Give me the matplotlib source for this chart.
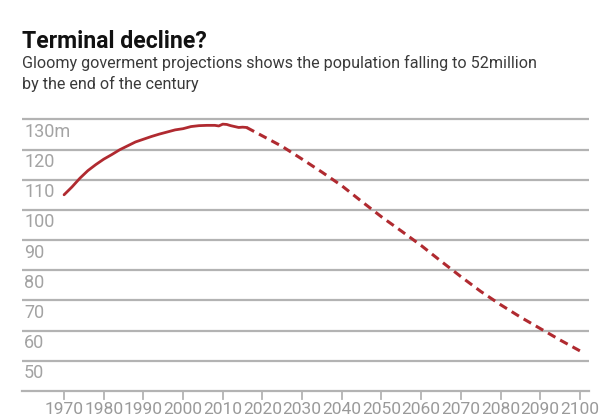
import matplotlib
matplotlib.use("Agg")
import matplotlib.pyplot as plt

years_hist = [1970, 1972, 1974, 1976, 1978, 1980, 1982, 1984, 1986, 1988, 1990,
              1992, 1994, 1996, 1998, 2000, 2002, 2004, 2006, 2008, 2009, 2010,
              2011, 2012, 2013, 2014, 2015, 2016]
pop_hist = [105.0, 107.6, 110.5, 113.0, 115.0, 116.8, 118.3, 119.9, 121.2, 122.5, 123.4,
            124.3, 125.1, 125.8, 126.5, 126.9, 127.6, 127.9, 128.0, 128.0, 127.8, 128.4,
            128.3, 127.9, 127.6, 127.3, 127.4, 127.3]
years_proj = [2016, 2020, 2025, 2030, 2035, 2040, 2045, 2050, 2055, 2060, 2065,
              2070, 2075, 2080, 2085, 2090, 2095, 2100]
pop_proj = [127.3, 124.5, 121.0, 116.8, 112.5, 108.0, 102.8, 97.7, 93.0, 88.2, 83.0,
            77.9, 73.0, 68.6, 64.5, 60.7, 56.9, 53.3]
y_ticks = [50, 60, 70, 80, 90, 100, 110, 120, 130]
y_labels = ["50", "60", "70", "80", "90", "100", "110", "120", "130m"]
x_ticks = list(range(1970, 2101, 10))

title = "Terminal decline?"
subtitle_1 = "Gloomy goverment projections shows the population falling to 52million"
subtitle_2 = "by the end of the century"

plt.rcParams['font.family'] = ['Roboto', 'DejaVu Sans']

W, H = 600, 420
fig = plt.figure(figsize=(6, 4.2), dpi=100)
fig.patch.set_facecolor("white")

left_px, right_px = 22, 589
bottom_px, top_px = 391, 116.3
ax = fig.add_axes([left_px / W, (H - bottom_px) / H, (right_px - left_px) / W,
                   (bottom_px - top_px) / H])
ax.set_xlim(1959.4, 2102.3)
ax.set_ylim(40, 131)
ax.axis("off")

grid_col = "#b3b3b3"
for v in y_ticks:
    ax.axhline(v, color=grid_col, lw=1.6, zorder=1)
ax.axhline(40, color=grid_col, lw=1.6, zorder=1, clip_on=False)

red = "#b02a30"
ax.plot(years_hist, pop_hist, color=red, lw=2.0, solid_capstyle="round", zorder=3)
ax.plot(years_proj, pop_proj, color=red, lw=2.2, dashes=(2.8, 1.8), zorder=3)

# y labels just below each gridline
for v, lab in zip(y_ticks, y_labels):
    ax.annotate(lab, xy=(0, v), xycoords=("axes fraction", "data"),
                xytext=(1.5, -2.5), textcoords="offset points",
                ha="left", va="top", fontsize=13, color="#a3a3a3")

# x ticks and labels
for yr in x_ticks:
    ax.plot([yr, yr], [40, 37.4], color=grid_col, lw=1.3, clip_on=False, zorder=1)
    ax.annotate(str(yr), xy=(yr, 40), xycoords="data", xytext=(0, -8),
                textcoords="offset points", ha="center", va="top",
                fontsize=12.5, color="#9a9a9a", annotation_clip=False)

fig.text(22 / W, 1 - 42 / H, title, fontsize=16.6, fontweight="bold",
         color="#111111", ha="left", va="center")
fig.text(22 / W, 1 - 63 / H, subtitle_1, fontsize=11.6, color="#3a3a3a",
         ha="left", va="center")
fig.text(22 / W, 1 - 84 / H, subtitle_2, fontsize=11.6, color="#3a3a3a",
         ha="left", va="center")

fig.savefig("out.png", dpi=100, facecolor="white")
